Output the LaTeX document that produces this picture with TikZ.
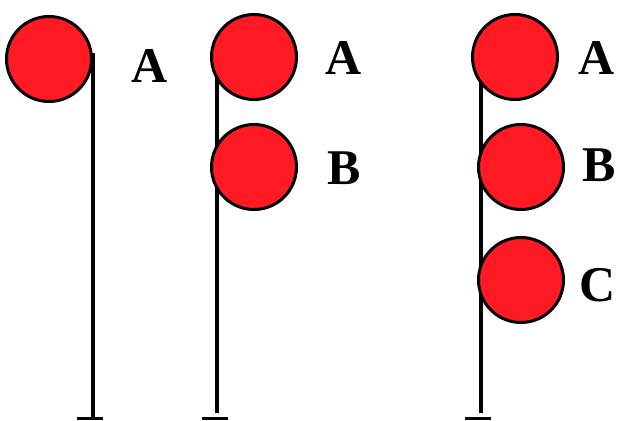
\documentclass[tikz,border=0pt]{standalone}
\usepackage{fontspec}
\setmainfont{Liberation Serif}
\definecolor{lampred}{RGB}{255,26,36}
\begin{document}
\begin{tikzpicture}[x=1pt,y=-1pt,
  lamp/.style={circle,fill=lampred,draw=black,line width=3pt,minimum size=85pt,inner sep=0pt},
  pole/.style={line width=4.5pt},
  base/.style={line width=3.5pt},
  lbl/.style={font=\fontsize{50}{50}\selectfont\bfseries,inner sep=0pt}]
\useasboundingbox (0,0) rectangle (617,420);
\fill[white] (0,0) rectangle (617,420);
% post 1
\coordinate (p1t) at (93,53);
\coordinate (p1b) at (93,418);
\draw[pole] (p1t) -- (p1b);
\draw[base] (77,418.5) -- (103,418.5);
\node[lamp] (l1a) at (49,59) {};
\node[lbl] (t1a) at (150,66) {A};
% post 2
\coordinate (p2t) at (217,45);
\coordinate (p2b) at (217,413);
\draw[pole] (p2t) -- (p2b);
\draw[base] (202,418.5) -- (228,418.5);
\node[lamp] (l2a) at (254,57) {};
\node[lamp] (l2b) at (254,167) {};
\node[lbl] (t2a) at (344,58) {A};
\node[lbl] (t2b) at (344,168) {B};
% post 3
\coordinate (p3t) at (481,60);
\coordinate (p3b) at (481,413);
\draw[pole] (p3t) -- (p3b);
\draw[base] (465,418.5) -- (491,418.5);
\node[lamp] (l3a) at (515,57) {};
\node[lamp] (l3b) at (521,167) {};
\node[lamp] (l3c) at (521,280) {};
\node[lbl] (t3a) at (597,58) {A};
\node[lbl] (t3b) at (599,165) {B};
\node[lbl] (t3c) at (598,285) {C};
\end{tikzpicture}
\end{document}
